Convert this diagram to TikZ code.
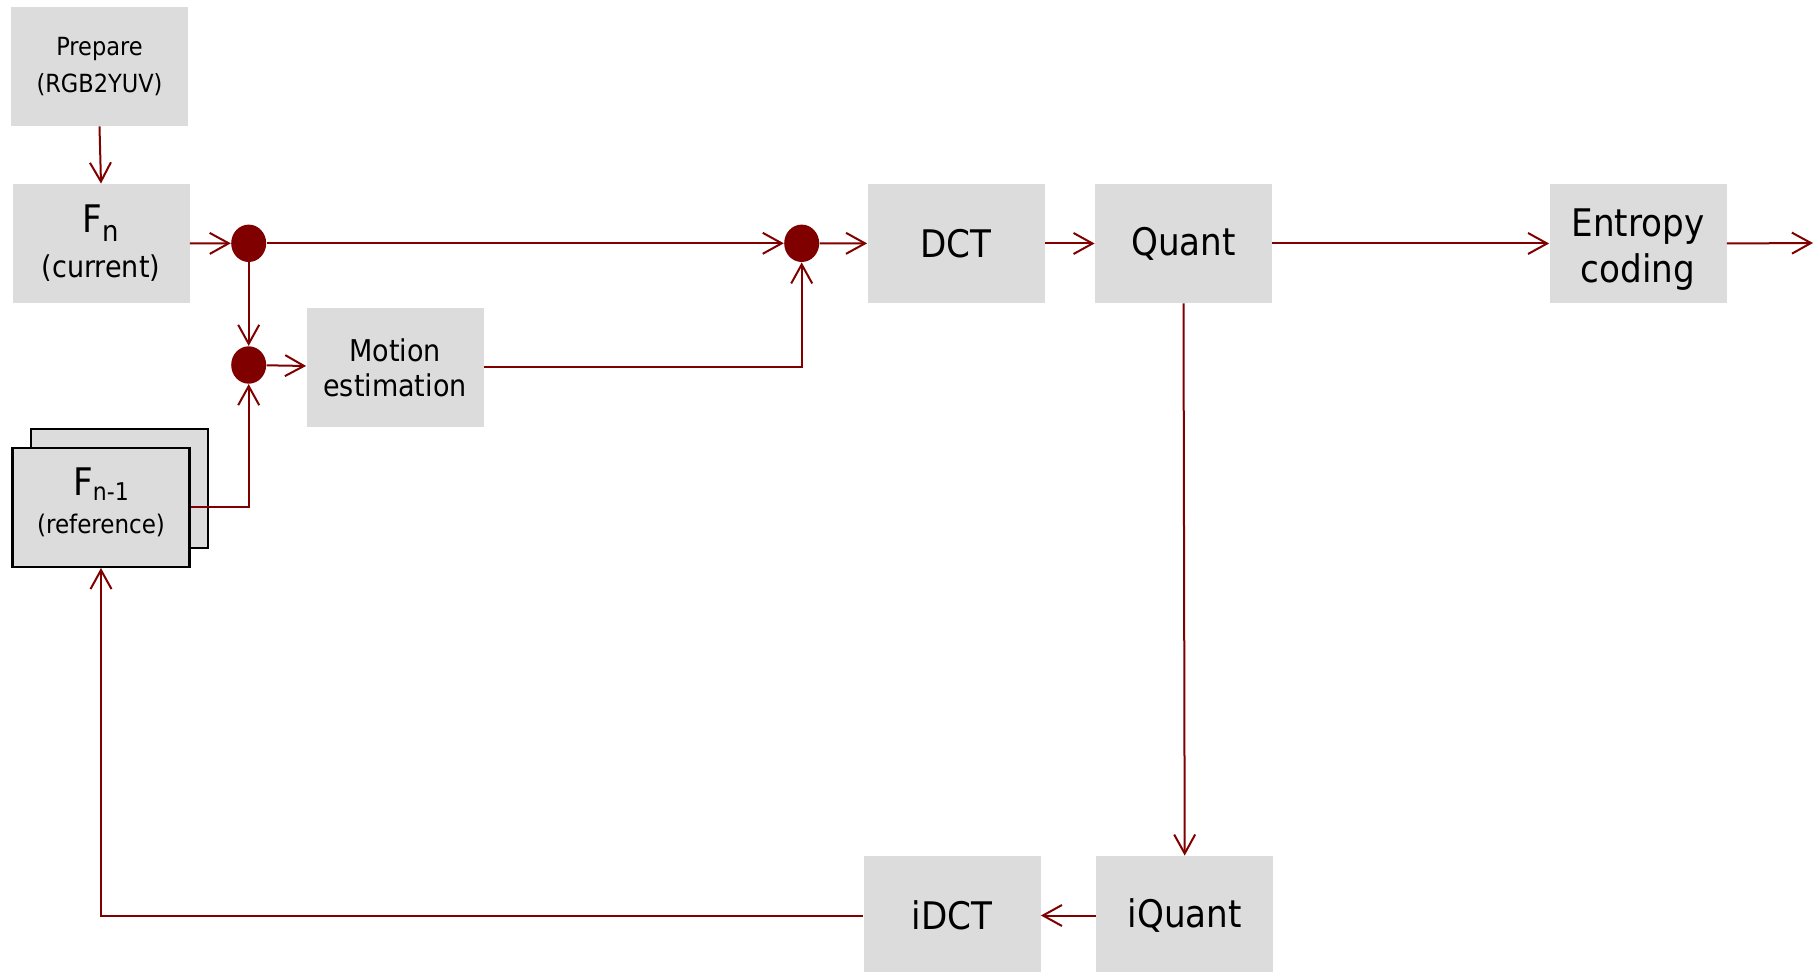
\documentclass[tikz,border=0pt]{standalone}
\usepackage{fontspec}
\setmainfont{DejaVu Sans Condensed}
\usetikzlibrary{arrows.meta,shapes.geometric}
\definecolor{wire}{HTML}{800000}
\definecolor{boxgray}{HTML}{DCDCDC}
\newcommand\fsz[2]{\fontsize{#1}{#2}\selectfont}

\begin{document}
\begin{tikzpicture}[x=0.5pt,y=-0.5pt,
  block/.style={fill=boxgray, minimum width=88.5pt, minimum height=59.5pt,
    inner sep=0pt, align=center, text=black},
  bigtxt/.style={font=\fsz{19pt}{23pt}},
  midtxt/.style={font=\fsz{15pt}{17.5pt}},
  smalltxt/.style={font=\fsz{12.5pt}{18.5pt}},
  framed/.style={draw=black, line width=1.2pt},
  junction/.style={shape=ellipse, fill=wire, draw=none, inner sep=0pt,
    minimum width=17.5pt, minimum height=18.7pt},
  link/.style={draw=wire, line width=1pt,
    -{Straight Barb[length=9.5pt,width=10.5pt]}}
]
\useasboundingbox (0,0) rectangle (1814,972);

% processing blocks
\node[block, smalltxt] (prep) at (99.5,66.5) {Prepare\\(RGB2YUV)};
\node[block, font=\fsz{15pt}{22.5pt}] (fn) at (101,243.5)
  {{\fsz{19pt}{22pt}F\raisebox{-4.5pt}{\fsz{14.4pt}{14.4pt}n}}\\(current)};
\node[block, midtxt] (me) at (395,367.5) {Motion\\estimation};
\node[block, framed] (fn1back) at (119.5,488.5) {};
\node[block, framed, font=\fsz{12.8pt}{18.8pt}] (fn1) at (101,507.3)
  {{\fsz{19pt}{22pt}F\raisebox{-2.5pt}{\fsz{12.2pt}{12.2pt}n-1}}\\(reference)\rule[-6.8pt]{0pt}{1pt}};
\node[block, bigtxt] (dct) at (956,243.5) {DCT};
\node[block, bigtxt] (quant) at (1183.5,243.5) {Quant};
\node[block, bigtxt] (ent) at (1638,243.5) {\rule{0pt}{19.9pt}Entropy\\coding};
\node[block, bigtxt] (idct) at (952,915.5) {iDCT};
\node[block, bigtxt] (iquant) at (1184.7,915.5) {iQuant};

% junction points
\node[junction] (j1) at (248.7,243.3) {};
\node[junction] (j2) at (248.7,365) {};
\node[junction] (j3) at (801.7,243.3) {};
\coordinate (out) at (1813,243);

% connectors
\draw[link] (prep.south) -- (fn.north);
\draw[link] (fn.east) -- (j1.west);
\draw[link] (j1) -- (j3);
\draw[link] (j1) -- (j2);
\draw[link] (j2) -- (me);
\draw[link] (fn1.east) -| (j2.south);
\draw[link] (me.east) -| (j3.south);
\draw[link] (j3) -- (dct);
\draw[link] (dct) -- (quant);
\draw[link] (quant) -- (ent);
\draw[link] (ent.east) -- (out);
\draw[link] (quant.south) -- (iquant.north);
\draw[link] (iquant) -- (idct);
\draw[link] (idct.west) -| (fn1.south);
\end{tikzpicture}
\end{document}
